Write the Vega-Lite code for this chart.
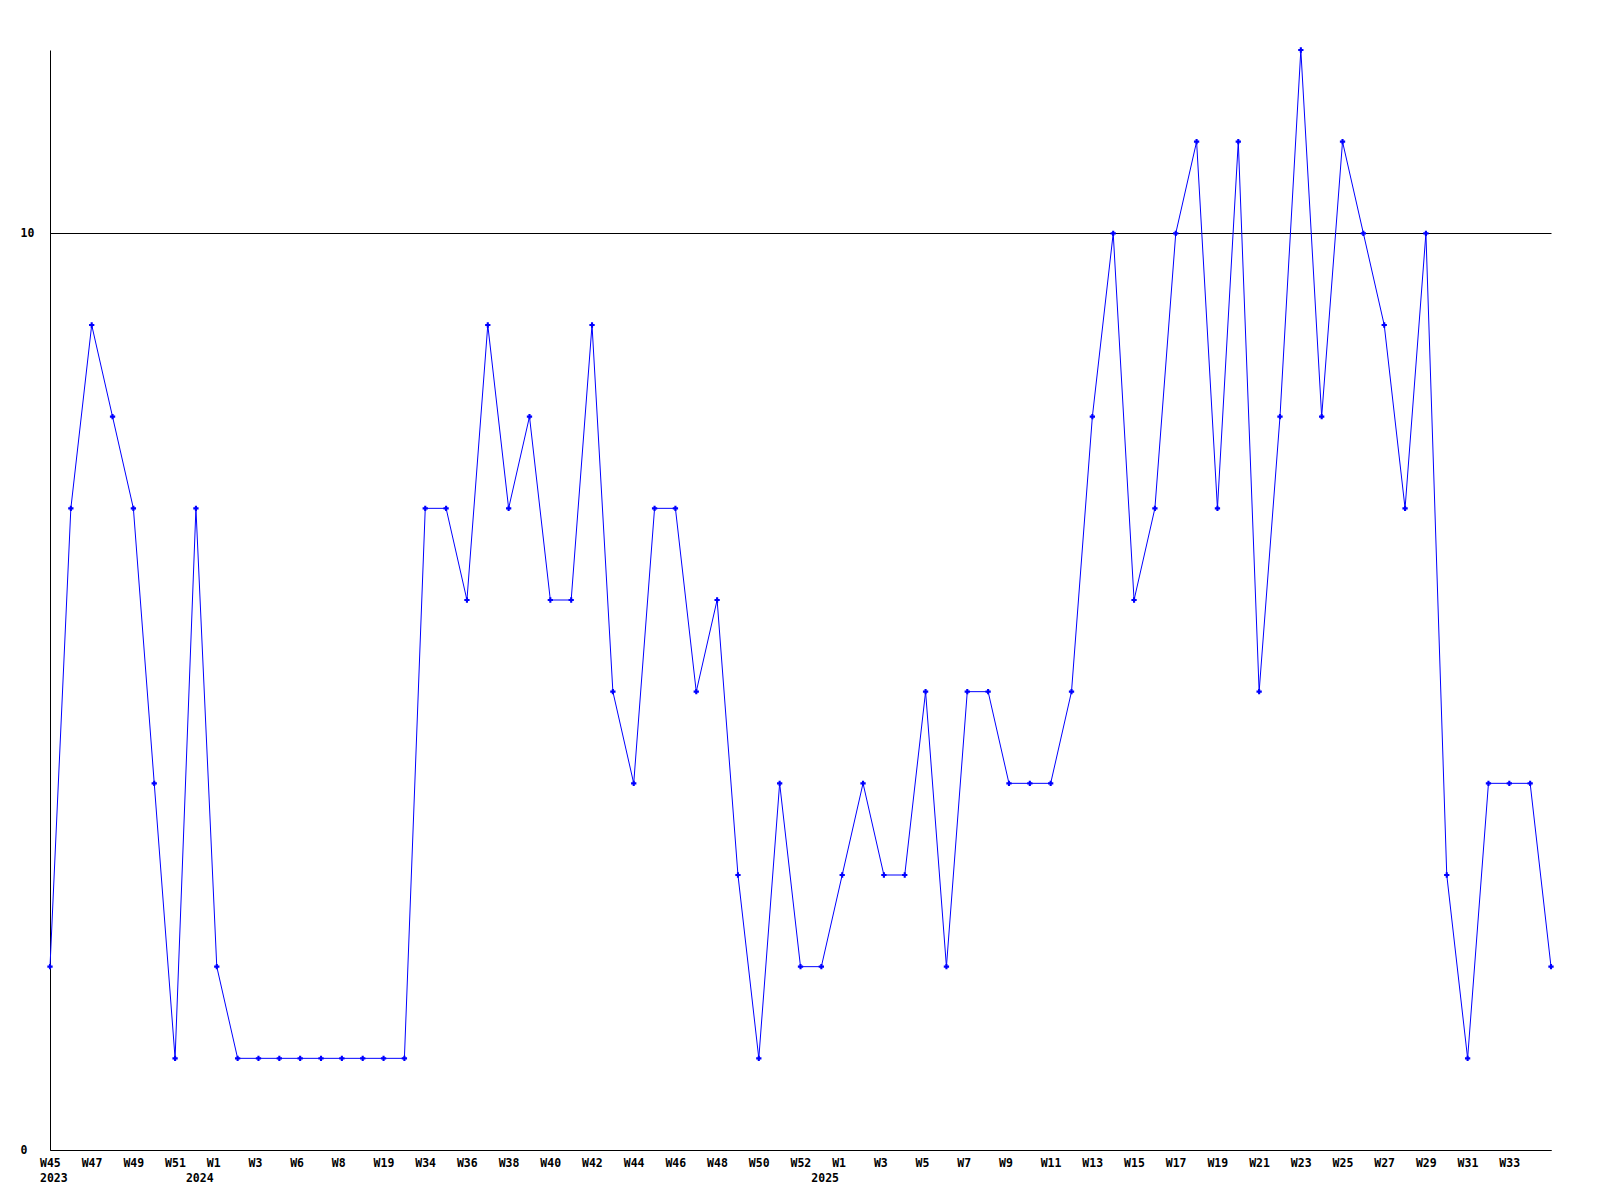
{
  "$schema": "https://vega.github.io/schema/vega-lite/v6.json",
  "autosize": {"type": "none"},
  "padding": {"left": 50, "top": 50, "right": 49, "bottom": 50},
  "width": 1501,
  "height": 1100,
  "background": "white",
  "config": {
    "view": {"stroke": null},
    "font": "DejaVu Sans Mono",
    "axis": {
      "labelFont": "DejaVu Sans Mono",
      "labelFontWeight": "bold",
      "labelFontSize": 11.5,
      "labelColor": "black",
      "domainColor": "black",
      "domainWidth": 1,
      "ticks": false,
      "tickSize": 0,
      "title": null
    }
  },
  "data": {
    "values": [
      {"week": "2023-W45", "value": 2},
      {"week": "2023-W46", "value": 7},
      {"week": "2023-W47", "value": 9},
      {"week": "2023-W48", "value": 8},
      {"week": "2023-W49", "value": 7},
      {"week": "2023-W50", "value": 4},
      {"week": "2023-W51", "value": 1},
      {"week": "2023-W52", "value": 7},
      {"week": "2024-W01", "value": 2},
      {"week": "2024-W02", "value": 1},
      {"week": "2024-W03", "value": 1},
      {"week": "2024-W04", "value": 1},
      {"week": "2024-W06", "value": 1},
      {"week": "2024-W07", "value": 1},
      {"week": "2024-W08", "value": 1},
      {"week": "2024-W09", "value": 1},
      {"week": "2024-W19", "value": 1},
      {"week": "2024-W20", "value": 1},
      {"week": "2024-W34", "value": 7},
      {"week": "2024-W35", "value": 7},
      {"week": "2024-W36", "value": 6},
      {"week": "2024-W37", "value": 9},
      {"week": "2024-W38", "value": 7},
      {"week": "2024-W39", "value": 8},
      {"week": "2024-W40", "value": 6},
      {"week": "2024-W41", "value": 6},
      {"week": "2024-W42", "value": 9},
      {"week": "2024-W43", "value": 5},
      {"week": "2024-W44", "value": 4},
      {"week": "2024-W45", "value": 7},
      {"week": "2024-W46", "value": 7},
      {"week": "2024-W47", "value": 5},
      {"week": "2024-W48", "value": 6},
      {"week": "2024-W49", "value": 3},
      {"week": "2024-W50", "value": 1},
      {"week": "2024-W51", "value": 4},
      {"week": "2024-W52", "value": 2},
      {"week": "2024-W53", "value": 2},
      {"week": "2025-W01", "value": 3},
      {"week": "2025-W02", "value": 4},
      {"week": "2025-W03", "value": 3},
      {"week": "2025-W04", "value": 3},
      {"week": "2025-W05", "value": 5},
      {"week": "2025-W06", "value": 2},
      {"week": "2025-W07", "value": 5},
      {"week": "2025-W08", "value": 5},
      {"week": "2025-W09", "value": 4},
      {"week": "2025-W10", "value": 4},
      {"week": "2025-W11", "value": 4},
      {"week": "2025-W12", "value": 5},
      {"week": "2025-W13", "value": 8},
      {"week": "2025-W14", "value": 10},
      {"week": "2025-W15", "value": 6},
      {"week": "2025-W16", "value": 7},
      {"week": "2025-W17", "value": 10},
      {"week": "2025-W18", "value": 11},
      {"week": "2025-W19", "value": 7},
      {"week": "2025-W20", "value": 11},
      {"week": "2025-W21", "value": 5},
      {"week": "2025-W22", "value": 8},
      {"week": "2025-W23", "value": 12},
      {"week": "2025-W24", "value": 8},
      {"week": "2025-W25", "value": 11},
      {"week": "2025-W26", "value": 10},
      {"week": "2025-W27", "value": 9},
      {"week": "2025-W28", "value": 7},
      {"week": "2025-W29", "value": 10},
      {"week": "2025-W30", "value": 3},
      {"week": "2025-W31", "value": 1},
      {"week": "2025-W32", "value": 4},
      {"week": "2025-W33", "value": 4},
      {"week": "2025-W34", "value": 4},
      {"week": "2025-W35", "value": 2}
    ]
  },
  "encoding": {
    "x": {
      "field": "week",
      "type": "ordinal",
      "sort": null,
      "scale": {"type": "point", "padding": 0},
      "axis": {
        "values": ["2023-W45", "2023-W47", "2023-W49", "2023-W51", "2023-W52", "2024-W01", "2024-W03", "2024-W06", "2024-W08", "2024-W19", "2024-W34", "2024-W36", "2024-W38", "2024-W40", "2024-W42", "2024-W44", "2024-W46", "2024-W48", "2024-W50", "2024-W52", "2024-W53", "2025-W01", "2025-W03", "2025-W05", "2025-W07", "2025-W09", "2025-W11", "2025-W13", "2025-W15", "2025-W17", "2025-W19", "2025-W21", "2025-W23", "2025-W25", "2025-W27", "2025-W29", "2025-W31", "2025-W33"],
        "labelExpr": "datum.value == '2023-W45' ? ['W45', '2023'] : datum.value == '2023-W52' ? ['', '2024'] : datum.value == '2024-W53' ? ['', '2025'] : 'W' + toNumber(substring(datum.value, 6))",
        "labelAngle": 0,
        "labelAlign": "left",
        "labelBaseline": "top",
        "labelOffset": -10.5,
        "labelPadding": 7,
        "labelLineHeight": 15,
        "labelOverlap": false,
        "labelFlush": false,
        "labelBound": false,
        "grid": false
      }
    },
    "y": {
      "field": "value",
      "type": "quantitative",
      "scale": {"domain": [0, 12], "nice": false, "zero": true},
      "axis": {
        "values": [0, 10],
        "grid": true,
        "gridColor": "black",
        "gridOpacity": 1,
        "gridWidth": 1,
        "labelAlign": "left",
        "labelBaseline": "middle",
        "labelPadding": 30
      }
    }
  },
  "layer": [
    {"mark": {"type": "line", "color": "#0000ff", "strokeWidth": 1, "clip": false}},
    {"mark": {"type": "point", "shape": "cross", "filled": true, "color": "#0000ff", "size": 28, "opacity": 1, "clip": false}}
  ]
}
